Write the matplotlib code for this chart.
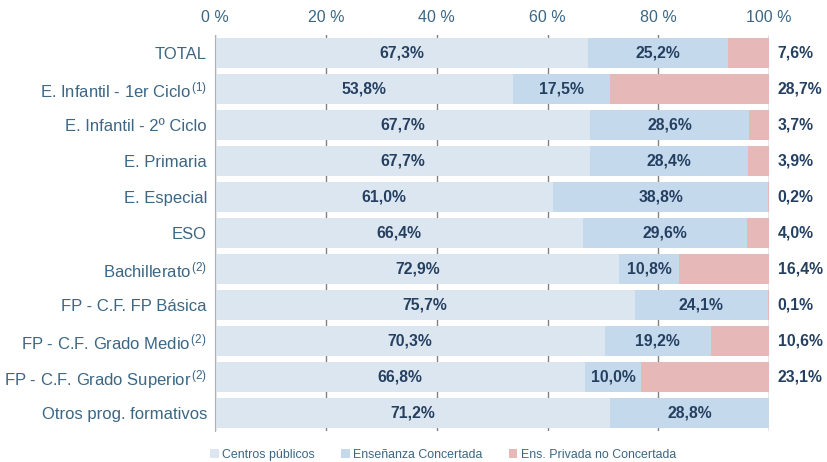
import matplotlib
matplotlib.use('Agg')
import matplotlib.pyplot as plt
import numpy as np

categories = ['TOTAL', 'E. Infantil - 1er Ciclo$^{\\,(1)}$', 'E. Infantil - 2º Ciclo', 'E. Primaria',
              'E. Especial', 'ESO', 'Bachillerato$^{\\,(2)}$', 'FP - C.F. FP Básica',
              'FP - C.F. Grado Medio$^{\\,(2)}$', 'FP - C.F. Grado Superior$^{\\,(2)}$',
              'Otros prog. formativos']
publicos = [67.3, 53.8, 67.7, 67.7, 61.0, 66.4, 72.9, 75.7, 70.3, 66.8, 71.2]
concertada = [25.2, 17.5, 28.6, 28.4, 38.8, 29.6, 10.8, 24.1, 19.2, 10.0, 28.8]
privada = [7.6, 28.7, 3.7, 3.9, 0.2, 4.0, 16.4, 0.1, 10.6, 23.1, 0.0]
series_names = ['Centros públicos', 'Enseñanza Concertada', 'Ens. Privada no Concertada']
ticks = [0, 20, 40, 60, 80, 100]

plt.rcParams['font.family'] = ['Liberation Sans', 'DejaVu Sans']
plt.rcParams['mathtext.fontset'] = 'custom'
plt.rcParams['mathtext.rm'] = 'Liberation Sans'
plt.rcParams['mathtext.it'] = 'Liberation Sans'

label_col = '#3b6684'
value_col = '#243f60'
colors = ['#dce6f0', '#c5d9ed', '#e6b9b8']

fig = plt.figure(figsize=(8.28, 4.62), dpi=100)
ax = fig.add_axes([0.26, 0.067, 0.669, 0.857])

y = np.arange(len(categories))
pub = np.array(publicos)
con = np.array(concertada)
pri = np.array(privada)

ax.barh(y, pub, height=0.83, color=colors[0], label=series_names[0], zorder=2)
ax.barh(y, con, left=pub, height=0.83, color=colors[1], label=series_names[1], zorder=2)
ax.barh(y, pri, left=pub + con, height=0.83, color=colors[2], label=series_names[2], zorder=2)

def fmt(v):
    return ('%.1f%%' % v).replace('.', ',')

for i in range(len(categories)):
    ax.text(pub[i] / 2, y[i], fmt(pub[i]), ha='center', va='center',
            fontsize=11.3, fontweight='bold', color=value_col, zorder=3)
    ax.text(pub[i] + con[i] / 2, y[i], fmt(con[i]), ha='center', va='center',
            fontsize=11.3, fontweight='bold', color=value_col, zorder=3)
    if pri[i] > 0:
        ax.text(101.5, y[i], fmt(pri[i]), ha='left', va='center',
                fontsize=11.3, fontweight='bold', color=value_col, zorder=3, clip_on=False)

ax.set_xlim(0, 100)
ax.set_ylim(len(categories) - 0.5, -0.5)
ax.set_yticks(y)
ax.set_yticklabels(categories, fontsize=12, color=label_col)
ax.set_xticks(ticks)
ax.set_xticklabels(['%d %%' % t for t in ticks], fontsize=11.5, color=label_col)
ax.xaxis.tick_top()
ax.tick_params(axis='both', length=0)
ax.tick_params(axis='y', pad=6)
ax.tick_params(axis='x', pad=7)
ax.grid(axis='x', color='#808080', linewidth=1, zorder=0)
for s in ['top', 'right', 'bottom']:
    ax.spines[s].set_visible(False)
ax.spines['left'].set_color('#b0b0b0')
ax.spines['left'].set_zorder(3)

leg = fig.legend(loc='lower left', bbox_to_anchor=(0.2536, 0.002), ncol=3, frameon=False,
                 fontsize=8.9, handlelength=0.7, handleheight=0.7, handletextpad=0.3,
                 columnspacing=2.1, borderpad=0, borderaxespad=0)
for t in leg.get_texts():
    t.set_color(label_col)

plt.savefig('out.png', dpi=100)
